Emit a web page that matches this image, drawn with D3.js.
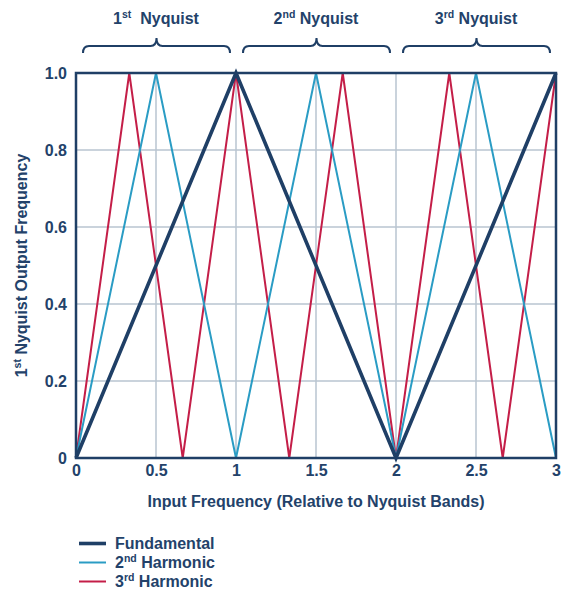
<!DOCTYPE html>
<html>
<head>
<meta charset="utf-8">
<script src="https://cdn.jsdelivr.net/npm/d3@7"></script>
<style>
  body { margin: 0; background: #fff; }
  svg text { font-family: "Liberation Sans", Arial, sans-serif; font-weight: bold; fill: #23426a; }
</style>
</head>
<body>
<div id="chart"></div>
<script>
(function () {
  "use strict";

  // data
  var fundX = [0, 1, 2, 3];
  var fundY = [0, 1, 0, 1];
  var h2X = [0, 0.5, 1, 1.5, 2, 2.5, 3];
  var h2Y = [0, 1, 0, 1, 0, 1, 0];
  var h3X = [0, 0.333, 0.667, 1, 1.333, 1.667, 2, 2.333, 2.667, 3];
  var h3Y = [0, 1, 0, 1, 0, 1, 0, 1, 0, 1];
  var xTicks = [0, 0.5, 1, 1.5, 2, 2.5, 3];
  var yTicks = [0, 0.2, 0.4, 0.6, 0.8, 1.0];
  var bands = [[0, 1, "1", "st"], [1, 2, "2", "nd"], [2, 3, "3", "rd"]];

  var navy = "#1f3f66", cyan = "#2a9cc4", red = "#c41e48", grid = "#b8c5d0";

  var W = 566, H = 590;
  var svg = d3.select("#chart").append("svg").attr("width", W).attr("height", H);

  var x = d3.scaleLinear().domain([0, 3]).range([76, 556]);
  var y = d3.scaleLinear().domain([0, 1]).range([458, 73]);

  // grid
  svg.append("g").selectAll("line").data(xTicks.slice(1, -1)).enter().append("line")
    .attr("x1", function (d) { return x(d); }).attr("x2", function (d) { return x(d); })
    .attr("y1", y(0)).attr("y2", y(1))
    .attr("stroke", grid).attr("stroke-width", 1.5);
  svg.append("g").selectAll("line").data(yTicks.slice(1, -1)).enter().append("line")
    .attr("x1", x(0)).attr("x2", x(3))
    .attr("y1", function (d) { return y(d); }).attr("y2", function (d) { return y(d); })
    .attr("stroke", grid).attr("stroke-width", 1.5);

  var line = d3.line().x(function (d) { return x(d[0]); }).y(function (d) { return y(d[1]); });
  function pts(xs, ys) { return xs.map(function (v, i) { return [v, ys[i]]; }); }

  var series = [
    { name: "3rd", data: pts(h3X, h3Y), color: red, width: 2 },
    { name: "2nd", data: pts(h2X, h2Y), color: cyan, width: 2 },
    { name: "fund", data: pts(fundX, fundY), color: navy, width: 3.6 }
  ];
  svg.append("g").selectAll("path").data(series).enter().append("path")
    .attr("d", function (d) { return line(d.data); })
    .attr("fill", "none")
    .attr("stroke", function (d) { return d.color; })
    .attr("stroke-width", function (d) { return d.width; })
    .attr("stroke-linejoin", "miter");

  // frame
  svg.append("rect").attr("x", x(0)).attr("y", y(1))
    .attr("width", x(3) - x(0)).attr("height", y(0) - y(1))
    .attr("fill", "none").attr("stroke", navy).attr("stroke-width", 2.5);

  // axes labels
  var xAxis = d3.axisBottom(x).tickValues(xTicks).tickSize(0).tickPadding(6)
    .tickFormat(function (d) { return d3.format("")(d); });
  var gx = svg.append("g").attr("transform", "translate(0," + (y(0) + 1) + ")").call(xAxis);
  gx.select(".domain").remove();
  gx.selectAll("text").attr("font-size", 16).attr("fill", "#23426a").attr("font-family", "Liberation Sans, Arial, sans-serif");

  var yAxis = d3.axisLeft(y).tickValues(yTicks).tickSize(0).tickPadding(9)
    .tickFormat(function (d) { return d === 0 ? "0" : d3.format(".1f")(d); });
  var gy = svg.append("g").attr("transform", "translate(" + x(0) + ",0)").call(yAxis);
  gy.select(".domain").remove();
  gy.selectAll("text").attr("font-size", 16).attr("fill", "#23426a").attr("font-family", "Liberation Sans, Arial, sans-serif");

  svg.append("text").attr("x", x(1.5)).attr("y", 507).attr("text-anchor", "middle")
    .attr("font-size", 16).text("Input Frequency (Relative to Nyquist Bands)");

  var yt = svg.append("text").attr("transform", "translate(27," + y(0.5) + ") rotate(-90)")
    .attr("text-anchor", "middle").attr("font-size", 16);
  yt.append("tspan").text("1");
  yt.append("tspan").attr("font-size", 10.5).attr("dy", -6).text("st");
  yt.append("tspan").attr("dy", 6).text(" Nyquist Output Frequency");

  // braces + band titles
  function brace(x0, x1) {
    var m = (x0 + x1) / 2, top = 38, mid = 46, bot = 53, r = 6;
    return "M" + x0 + "," + bot +
      "Q" + x0 + "," + mid + " " + (x0 + r) + "," + mid +
      "L" + (m - r) + "," + mid +
      "Q" + m + "," + mid + " " + m + "," + top +
      "Q" + m + "," + mid + " " + (m + r) + "," + mid +
      "L" + (x1 - r) + "," + mid +
      "Q" + x1 + "," + mid + " " + x1 + "," + bot;
  }
  var gb = svg.append("g").selectAll("g").data(bands).enter().append("g");
  gb.append("path")
    .attr("d", function (d) { return brace(x(d[0]) + 7, x(d[1]) - 6); })
    .attr("fill", "none").attr("stroke", navy).attr("stroke-width", 2);
  var bt = gb.append("text")
    .attr("x", function (d) { return (x(d[0]) + x(d[1])) / 2; })
    .attr("y", 24).attr("text-anchor", "middle").attr("font-size", 16);
  bt.append("tspan").text(function (d) { return d[2]; });
  bt.append("tspan").attr("font-size", 10.5).attr("dy", -6).text(function (d) { return d[3]; });
  bt.append("tspan").attr("dy", 6).text(function (d, i) { return i === 0 ? "  Nyquist" : " Nyquist"; })
    .attr("xml:space", "preserve");

  // legend
  var legend = [["Fundamental", "", navy, 3.6], ["2", "nd", cyan, 2], ["3", "rd", red, 2]];
  var lg = svg.append("g").selectAll("g").data(legend).enter().append("g")
    .attr("transform", function (d, i) { return "translate(79," + (543.5 + i * 19) + ")"; });
  lg.append("line").attr("x1", 0).attr("x2", 27)
    .attr("stroke", function (d) { return d[2]; })
    .attr("stroke-width", function (d) { return d[3]; });
  var lt = lg.append("text").attr("x", 36).attr("y", 5.5).attr("font-size", 16);
  lt.append("tspan").text(function (d) { return d[0]; });
  lt.filter(function (d) { return d[1]; }).append("tspan").attr("font-size", 10.5).attr("dy", -6).text(function (d) { return d[1]; });
  lt.filter(function (d) { return d[1]; }).append("tspan").attr("dy", 6).text(" Harmonic");
})();
</script>
</body>
</html>
